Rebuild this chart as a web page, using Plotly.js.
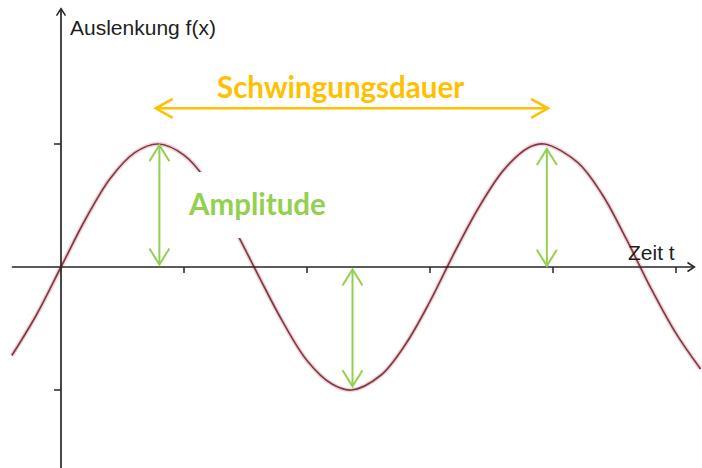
<!DOCTYPE html>
<html>
<head>
<meta charset="utf-8">
<script src="https://cdn.plot.ly/plotly-3.0.1.min.js"></script>
<style>
  html, body { margin: 0; padding: 0; background: #fff; }
  #chart { width: 702px; height: 468px; }
</style>
</head>
<body>
<div id="chart"></div>
<script>
// Oscillation f(t): sampled time values and displacement
const timeT = [-0.4, -0.2, 0, 0.2, 0.4, 0.6, 0.79, 1.0, 1.2, 1.4, 1.6, 1.8, 2.0, 2.2, 2.36,
               2.6, 2.8, 3.0, 3.2, 3.4, 3.6, 3.8, 3.93, 4.2, 4.4, 4.6, 4.8, 5.0, 5.2];
const displacement = [-0.72, -0.39, 0, 0.39, 0.72, 0.93, 1.0, 0.91, 0.68, 0.33, -0.06, -0.44, -0.76, -0.95, -1.0,
                      -0.88, -0.63, -0.28, 0.12, 0.49, 0.79, 0.97, 1.0, 0.85, 0.59, 0.22, -0.18, -0.54, -0.83];

// Axis ticks
const xTicks = [1, 2, 3, 4, 5];
const yTicks = [1, -1];

// Axis extents (drawn as arrows)
const xAxisSpan = [-0.4, 5.15];
const yAxisSpan = [-1.7, 2.1];

// Amplitude markers: time, from-value, to-value
const ampT    = [0.8, 2.37, 3.95];
const ampFrom = [0.02, -0.02, 0.01];
const ampTo   = [0.99, -0.97, 0.96];

// Period marker (one full oscillation)
const periodSpan = [0.77, 3.96];
const periodLevel = 1.29;

// Labels
const yLabel = 'Auslenkung f(x)';
const xLabel = 'Zeit t';
const periodLabel = 'Schwingungsdauer';
const ampLabel = 'Amplitude';

const AXIS_COLOR = '#262626';
const ORANGE = '#FFC000';
const GREEN = '#92D050';

const shapes = [];

// helper: open chevron anchored at a data point, path in pixels
function chevron(x, y, path, color, width) {
  shapes.push({
    type: 'path', xref: 'x', yref: 'y', xsizemode: 'pixel', ysizemode: 'pixel',
    xanchor: x, yanchor: y, path: path, layer: 'above',
    line: { color: color, width: width }
  });
}
function seg(x0, y0, x1, y1, color, width) {
  shapes.push({ type: 'line', xref: 'x', yref: 'y', x0: x0, y0: y0, x1: x1, y1: y1,
    layer: 'above', line: { color: color, width: width } });
}

// white backing behind the amplitude label
shapes.push({ type: 'rect', xref: 'x', yref: 'y', x0: 0.967, x1: 2.23, y0: 0.236, y1: 0.772,
  fillcolor: '#ffffff', line: { width: 0 }, layer: 'above' });

// axes
seg(xAxisSpan[0], 0, xAxisSpan[1], 0, AXIS_COLOR, 1.7);
seg(0, yAxisSpan[0], 0, yAxisSpan[1], AXIS_COLOR, 1.7);
chevron(xAxisSpan[1], 0, 'M-7,4.5 L0,0 L-7,-4.5', AXIS_COLOR, 1.5);
chevron(0, yAxisSpan[1], 'M-4.5,-7 L0,0 L4.5,-7', AXIS_COLOR, 1.5);
xTicks.forEach(t => chevron(t, 0, 'M0,0 L0,-6', AXIS_COLOR, 1.5));
yTicks.forEach(v => chevron(0, v, 'M0,0 L-7,0', AXIS_COLOR, 1.5));

// amplitude double arrows
ampT.forEach((t, i) => {
  const a = ampFrom[i], b = ampTo[i];
  seg(t, a, t, b, GREEN, 2);
  const up = b > a;
  chevron(t, b, up ? 'M-10,-16 L0,0 L10,-16' : 'M-10,16 L0,0 L10,16', GREEN, 2);
  chevron(t, a, up ? 'M-10,16 L0,0 L10,16' : 'M-10,-16 L0,0 L10,-16', GREEN, 2);
});

// period double arrow
seg(periodSpan[0], periodLevel, periodSpan[1], periodLevel, ORANGE, 2.5);
chevron(periodSpan[0], periodLevel, 'M17,9.5 L0,0 L17,-9.5', ORANGE, 2.5);
chevron(periodSpan[1], periodLevel, 'M-17,9.5 L0,0 L-17,-9.5', ORANGE, 2.5);

const traces = [
  { x: timeT, y: displacement, mode: 'lines', hoverinfo: 'skip',
    line: { shape: 'spline', smoothing: 1, color: 'rgba(232,130,145,0.35)', width: 4.5 } },
  { x: timeT, y: displacement, mode: 'lines', hoverinfo: 'skip',
    line: { shape: 'spline', smoothing: 1, color: '#7b3d45', width: 1.7 } }
];

const annotations = [
  { text: yLabel, xref: 'x', yref: 'y', x: 0.06, y: 1.946, xanchor: 'left', yanchor: 'middle',
    showarrow: false, font: { family: 'Liberation Sans, Arial, sans-serif', size: 21, color: '#1e1e1e' } },
  { text: xLabel, xref: 'x', yref: 'y', x: 4.59, y: 0.12, xanchor: 'left', yanchor: 'middle',
    showarrow: false, font: { family: 'Liberation Sans, Arial, sans-serif', size: 21, color: '#1e1e1e' } },
  { text: '<b>' + periodLabel + '</b>', xref: 'x', yref: 'y', x: 2.276, y: 1.47, xanchor: 'center', yanchor: 'middle',
    showarrow: false, font: { family: 'Lato, sans-serif', size: 29.5, color: ORANGE } },
  { text: '<b>' + ampLabel + '</b>', xref: 'x', yref: 'y', x: 1.59, y: 0.52, xanchor: 'center', yanchor: 'middle',
    showarrow: false, font: { family: 'Lato, sans-serif', size: 29.5, color: GREEN } }
];

const layout = {
  width: 702, height: 468,
  margin: { l: 0, r: 0, t: 0, b: 0, pad: 0 },
  paper_bgcolor: '#ffffff', plot_bgcolor: '#ffffff',
  showlegend: false,
  xaxis: { range: [-0.4959, 5.2114], visible: false, fixedrange: true },
  yaxis: { range: [-1.6341, 2.1707], visible: false, fixedrange: true },
  shapes: shapes,
  annotations: annotations
};

Plotly.newPlot('chart', traces, layout, { staticPlot: true, displayModeBar: false });
</script>
</body>
</html>
